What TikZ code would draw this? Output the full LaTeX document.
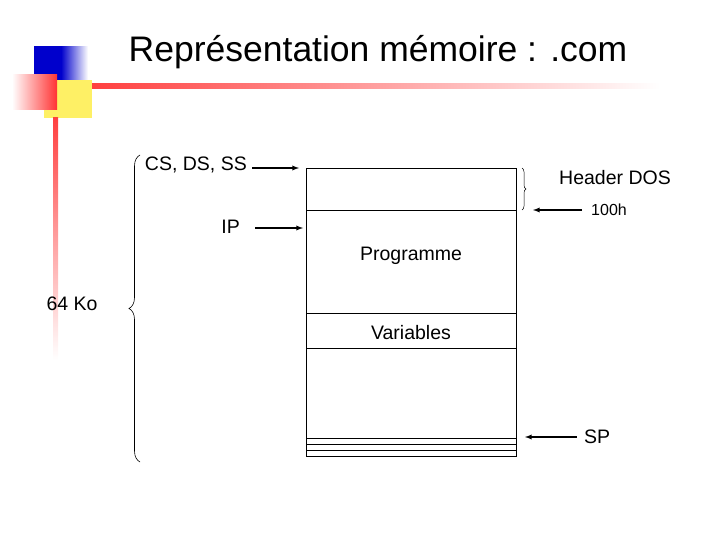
\documentclass[tikz,border=0pt]{standalone}
\usepackage{fontspec}
\setmainfont{Liberation Sans}
\usetikzlibrary{decorations.pathreplacing}
\begin{document}
\begin{tikzpicture}[x=1pt,y=-1pt,
  lbl/.style={font=\fontsize{19.5}{22}\selectfont,inner sep=0},
  arr/.style={-latex,line width=1.3pt},
  box/.style={line width=0.7pt}]
\useasboundingbox (0,0) rectangle (720,540);
% logo
\shade[left color=blue!80!black,right color=white,middle color=blue!80!black,shading angle=90] (34,47) rectangle (88,80);
\fill[yellow!90!orange!60] (44,80) rectangle (92,118);
\shade[left color=white,right color=red!80] (12,75) rectangle (57,110);
\shade[left color=red!75,right color=white] (92,84) rectangle (660,89);
\shade[top color=red!75,bottom color=white] (53,118) rectangle (58,360);
\node[font=\fontsize{35.5}{40}\selectfont,inner sep=0] (title) at (378,52) {Représentation mémoire : .com};
% memory box
\draw[box] (306,168) rectangle (516,456);
\draw[box] (306,210) -- (516,210);
\draw[box] (306,313) -- (516,313);
\draw[box] (306,348) -- (516,348);
\draw[box] (306,438) -- (516,438);
\draw[box] (306,444) -- (516,444);
\draw[box] (306,450) -- (516,450);
\node[lbl] (prog) at (411,256) {Programme};
\node[lbl] (var) at (411,333) {Variables};
% labels
\node[lbl,anchor=east] (cs) at (247,165) {CS, DS, SS};
\node[lbl,anchor=east] (ip) at (240,227) {IP};
\node[lbl] (hdr) at (615,178) {Header DOS};
\node[font=\fontsize{16}{18}\selectfont,inner sep=0] (h100) at (609,210) {100h};
\node[lbl] (sp) at (597,437) {SP};
\node[lbl] (ko) at (72,304) {64 Ko};
\coordinate (csE) at (299,168);
\coordinate (ipE) at (303,228);
\coordinate (hE) at (533,210);
\coordinate (spE) at (525,437);
\draw[arr] (cs.east)++(5,3) -- (csE);
\draw[arr] (ip.east)++(15,1) -- (ipE);
\draw[arr] (582,210) -- (hE);
\draw[arr] (sp.west)++(-7,0) -- (spE);
% braces
\draw[line width=0.6pt,decorate,decoration={brace,amplitude=11pt}] (140,462) -- (140,155);
\draw[line width=0.5pt,decorate,decoration={brace,amplitude=4pt}] (522,168) -- (522,210);
\end{tikzpicture}
\end{document}
